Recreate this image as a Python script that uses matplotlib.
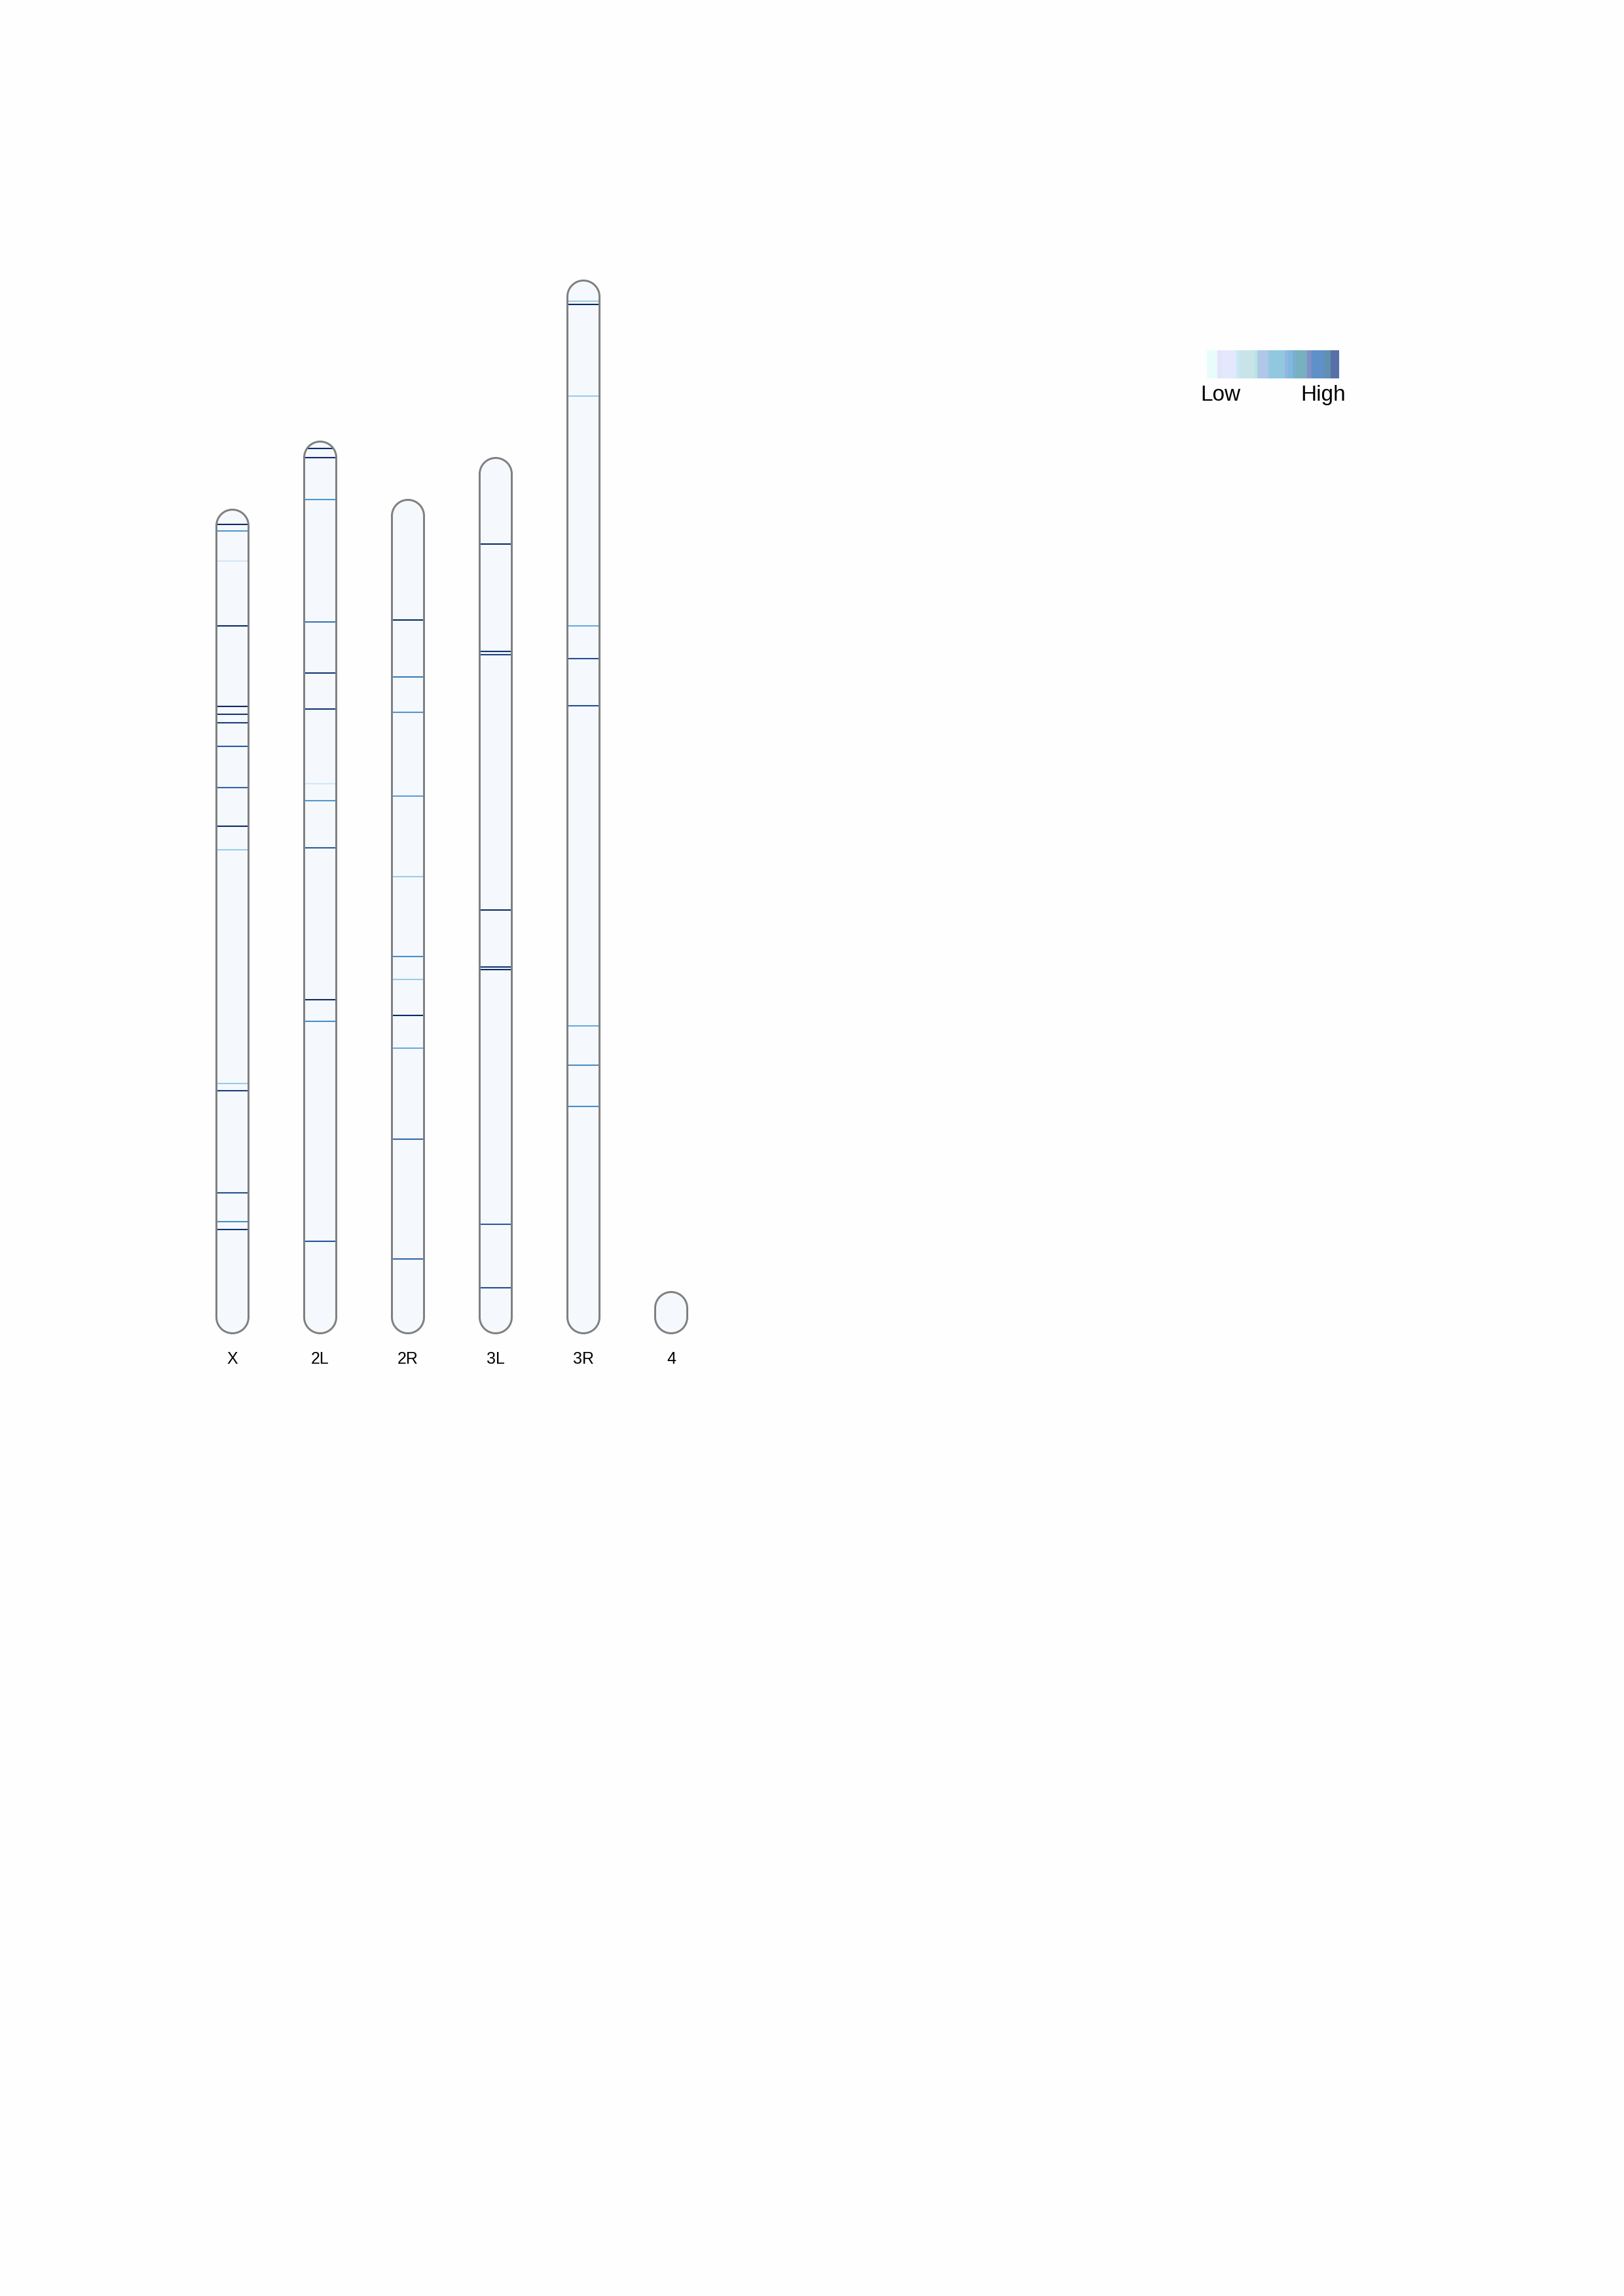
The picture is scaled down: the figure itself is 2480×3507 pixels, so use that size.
import matplotlib
matplotlib.use("Agg")
import matplotlib.pyplot as plt
import numpy as np
from matplotlib.patches import Polygon, Rectangle
from matplotlib.colors import LinearSegmentedColormap

plt.rcParams['font.family'] = ['Liberation Sans', 'DejaVu Sans']

# ---------------- data ----------------
chrom_names = ["X", "2L", "2R", "3L", "3R", "4"]
chrom_lengths = [25.22, 27.30, 25.52, 26.80, 32.22, 1.32]   # Mb (top of arm -> bottom)

# band positions (Mb from top of chromosome) and relative intensity (0 low .. 1 high)
band_pos_X = [0.48, 0.68, 1.60, 3.58, 6.04, 6.28, 6.54, 7.26, 8.52, 9.70, 10.42, 17.56, 17.78, 20.90, 21.78, 22.02]
band_val_X = [1.00, 0.55, 0.05, 1.00, 1.00, 0.95, 0.92, 0.80, 0.75, 1.00, 0.30, 0.30, 0.92, 0.85, 0.60, 0.95]

band_pos_2L = [0.24, 0.52, 1.80, 5.54, 7.10, 8.20, 10.48, 11.00, 12.44, 17.08, 17.74, 24.46]
band_val_2L = [1.00, 1.00, 0.55, 0.70, 0.95, 0.95, 0.05, 0.55, 0.80, 1.00, 0.60, 0.82]

band_pos_2R = [3.70, 5.44, 6.52, 9.08, 11.54, 13.98, 14.68, 15.78, 16.78, 19.56, 23.22]
band_val_2R = [1.00, 0.68, 0.55, 0.50, 0.30, 0.60, 0.30, 1.00, 0.45, 0.75, 0.75]

band_pos_3L = [2.66, 5.94, 6.04, 13.84, 15.58, 15.66, 23.44, 25.38]
band_val_3L = [1.00, 0.95, 0.90, 1.00, 0.95, 1.00, 0.80, 0.85]

band_pos_3R = [0.66, 0.76, 3.56, 10.58, 11.58, 13.02, 22.80, 24.00, 25.26]
band_val_3R = [0.30, 1.00, 0.30, 0.45, 0.85, 0.85, 0.45, 0.60, 0.60]

band_pos_4 = []
band_val_4 = []

band_positions = [band_pos_X, band_pos_2L, band_pos_2R, band_pos_3L, band_pos_3R, band_pos_4]
band_values = [band_val_X, band_val_2L, band_val_2R, band_val_3L, band_val_3R, band_val_4]

# legend colour blocks (Low -> High) and their relative widths
legend_colors = ["#e8fcfc", "#e4e4fa", "#e4e8fc", "#c8e8f8", "#c8e4e8", "#b8e6e0",
                 "#b0c8e8", "#90c8e0", "#98b4e0", "#80b8e0", "#78b0d0", "#78b0c0",
                 "#8090c8", "#6090c8", "#6090b0", "#5870a8"]
legend_widths = [48, 22, 65, 15, 65, 15, 52, 73, 12, 25, 16, 50, 22, 55, 32, 38]

# ---------------- style ----------------
W, H = 2480, 3507
DPI = 300
fig = plt.figure(figsize=(W / DPI, H / DPI), dpi=DPI, facecolor="#fefefe")

px_per_mb = 50.0
base_px = 2038          # bottom of chromosomes (from top of page)
ax_left_px, ax_right_px = 288, 1092
ax_top_px = 238
ax_h_mb = (base_px - ax_top_px) / px_per_mb
ax = fig.add_axes([ax_left_px / W, (H - base_px) / H,
                   (ax_right_px - ax_left_px) / W, (base_px - ax_top_px) / H])
ax.set_xlim(-0.5, len(chrom_names) - 0.5)
ax.set_ylim(0, ax_h_mb)
ax.axis("off")
ax.set_facecolor("none")

px_per_x = (ax_right_px - ax_left_px) / len(chrom_names)
half_w = 24.5 / px_per_x        # half width in x data units
cap_r = 24.5 / px_per_mb        # cap radius in y data units

band_cmap = LinearSegmentedColormap.from_list(
    "bands", [(0.0, "#dfeaf6"), (0.3, "#9ccbe8"), (0.5, "#5aa0d4"),
              (0.65, "#3f85c2"), (0.8, "#2a5a9e"), (1.0, "#0d2a66")])

fill_color = "#f5f9fe"
edge_color = "#808080"


def capsule(xc, length):
    y_top = length - 0.03
    y_bot = 0.03
    t1 = np.linspace(0, np.pi, 60)
    t2 = np.linspace(np.pi, 2 * np.pi, 60)
    top = np.column_stack([xc + half_w * np.cos(t1), y_top - cap_r + cap_r * np.sin(t1)])
    bot = np.column_stack([xc + half_w * np.cos(t2), y_bot + cap_r + cap_r * np.sin(t2)])
    return np.vstack([top, bot])


for i, (name, L) in enumerate(zip(chrom_names, chrom_lengths)):
    verts = capsule(i, L)
    body = Polygon(verts, closed=True, facecolor=fill_color, edgecolor="none", zorder=1)
    ax.add_patch(body)
    pos = np.array(band_positions[i], dtype=float)
    vals = np.array(band_values[i], dtype=float)
    if len(pos):
        ys = L - pos
        lc = ax.hlines(ys, i - half_w, i + half_w, colors=band_cmap(vals),
                       linewidth=0.5, zorder=2)
        lc.set_clip_path(body)
    outline = Polygon(verts, closed=True, facecolor="none", edgecolor=edge_color,
                      linewidth=0.72, zorder=3)
    ax.add_patch(outline)
    ax.text(i, -38 / px_per_mb, name, ha="center", va="center", fontsize=6,
            color="black", clip_on=False)

# ---------------- legend ----------------
lx0, lx1 = 1843, 2045
ly_top, ly_bot = 535, 578
lax = fig.add_axes([lx0 / W, (H - ly_bot) / H, (lx1 - lx0) / W, (ly_bot - ly_top) / H])
lax.axis("off")
edges = np.concatenate([[0], np.cumsum(legend_widths)]) / float(sum(legend_widths))
for c, a, b in zip(legend_colors, edges[:-1], edges[1:]):
    lax.add_patch(Rectangle((a, 0), b - a, 1, facecolor=c, edgecolor="none"))
lax.set_xlim(0, 1)
lax.set_ylim(0, 1)

fig.text(1864 / W, (H - 612) / H, "Low", ha="center", va="baseline", fontsize=8, color="black")
fig.text(2021 / W, (H - 612) / H, "High", ha="center", va="baseline", fontsize=8, color="black")

fig.savefig("out.png", dpi=DPI, facecolor=fig.get_facecolor())
